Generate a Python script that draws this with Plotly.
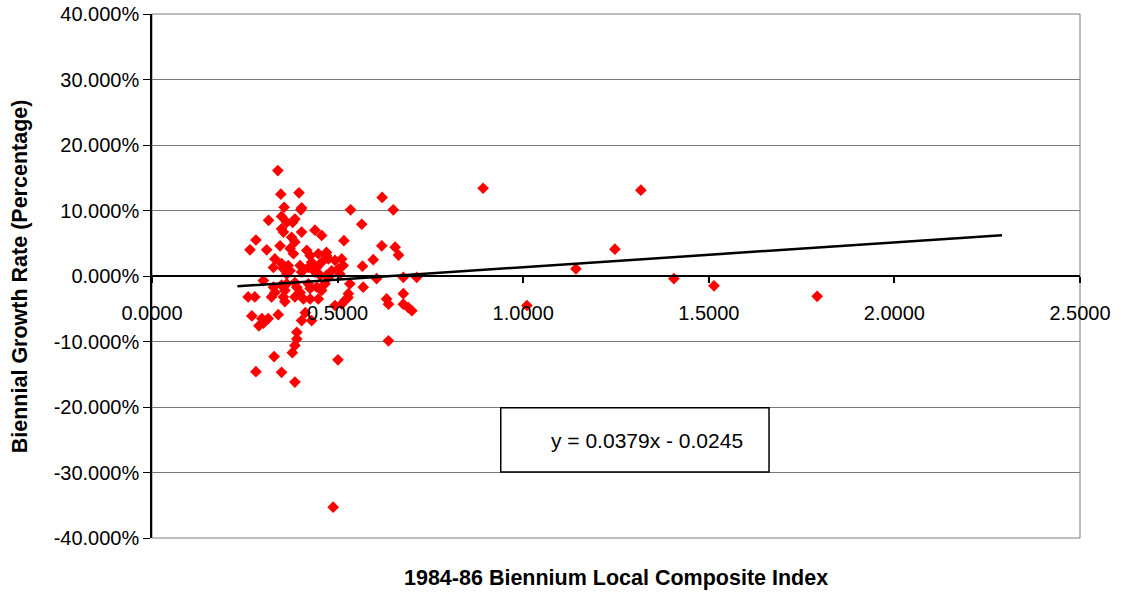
import plotly.graph_objects as go

# Local composite index (x) and biennial growth rate in percent (y)
lci = [0.339, 0.347, 0.396, 0.356, 0.401, 0.403, 0.314, 0.349, 0.363, 0.379,
       0.385, 0.349, 0.354, 0.376, 0.385, 0.403, 0.439, 0.457, 0.280, 0.264,
       0.309, 0.345, 0.372, 0.381, 0.417, 0.426, 0.448, 0.470, 0.470, 0.475,
       0.493, 0.511, 0.515, 0.502, 0.506, 0.484, 0.475, 0.331, 0.327, 0.349,
       0.354, 0.367, 0.372, 0.363, 0.399, 0.403, 0.421, 0.430, 0.444, 0.457,
       0.439, 0.453, 0.470, 0.300, 0.327, 0.331, 0.349, 0.363, 0.358, 0.385,
       0.390, 0.399, 0.421, 0.426, 0.444, 0.457, 0.466, 0.259, 0.277, 0.354,
       0.385, 0.408, 0.426, 0.448, 0.533, 0.569, 0.529, 0.605, 0.677, 0.713,
       0.632, 0.637, 0.677, 0.677, 0.690, 0.700, 0.535, 0.565, 0.620, 0.650,
       0.517, 0.619, 0.655, 0.664, 0.596, 0.567, 0.511, 0.520, 0.528, 0.493,
       0.269, 0.288, 0.296, 0.313, 0.340, 0.403, 0.430, 0.322, 0.358, 0.390,
       0.390, 0.385, 0.378, 0.329, 0.280, 0.349, 0.385, 0.501, 0.637, 0.488,
       0.892, 1.317, 1.247, 1.142, 1.406, 1.514, 1.792, 1.010, 0.300, 0.413]
growth_pct = [16.1, 12.5, 12.7, 10.5, 10.1, 10.4, 8.5, 9.1, 8.2, 8.2,
              8.7, 7.2, 6.7, 5.9, 5.2, 6.7, 7.0, 6.2, 5.5, 4.0,
              4.0, 4.6, 4.2, 3.4, 3.9, 3.1, 3.4, 3.1, 3.6, 2.6,
              2.4, 2.6, 1.6, 1.1, 0.3, 0.8, -0.2, 2.6, 1.3, 1.9,
              1.1, 1.6, 0.8, 0.3, 1.6, 0.6, 1.3, 2.1, 1.3, 2.1,
              0.6, 0.1, 0.1, -0.7, -1.7, -2.5, -1.4, -1.2, -2.2, -1.0,
              -1.7, -2.5, -1.2, -1.9, -1.7, -2.2, -1.2, -3.2, -3.2, -3.2,
              -3.2, -3.5, -3.5, -3.5, -1.2, -1.7, -2.7, -0.4, -0.2, -0.2,
              -3.5, -4.3, -2.7, -4.3, -4.8, -5.3, 10.1, 7.9, 12.0, 10.1,
              5.4, 4.6, 4.4, 3.2, 2.5, 1.5, -4.3, -3.7, -3.3, -4.5,
              -6.1, -7.6, -6.5, -6.5, -5.9, -6.8, -6.8, -3.2, -3.9, -8.6,
              -9.6, -10.6, -11.7, -12.3, -14.6, -14.7, -16.2, -12.8, -9.9, -35.3,
              13.4, 13.1, 4.1, 1.1, -0.4, -1.5, -3.1, -4.5, -7.2, -5.6]
growth = [v / 100 for v in growth_pct]

# Linear trendline coefficients (as shown in the chart) and its x extent
trend_slope = 0.0379
trend_intercept = -0.0245
trend_x = [0.23, 2.29]
trend_y = [trend_slope * x + trend_intercept for x in trend_x]

x_ticks = [0.0, 0.5, 1.0, 1.5, 2.0, 2.5]
y_ticks = [-0.4, -0.3, -0.2, -0.1, 0.0, 0.1, 0.2, 0.3, 0.4]
x_ticktext = [f"{v:.4f}" for v in x_ticks]
y_ticktext = [f"{v * 100:.3f}%" for v in y_ticks]

FONT = "Liberation Sans, Arial, sans-serif"

fig = go.Figure()
fig.add_trace(go.Scatter(
    x=lci, y=growth, mode="markers",
    marker=dict(symbol="diamond", size=9, color="#FF0000", line=dict(width=0)),
    showlegend=False, hoverinfo="x+y"))
fig.add_trace(go.Scatter(
    x=trend_x, y=trend_y, mode="lines",
    line=dict(color="black", width=2.5), showlegend=False, hoverinfo="skip"))

fig.update_layout(
    width=1122, height=594,
    margin=dict(l=152, r=42, t=14, b=56, autoexpand=False),
    paper_bgcolor="white", plot_bgcolor="white",
    font=dict(family=FONT, size=20, color="black"),
    xaxis=dict(range=[0, 2.5], tickvals=x_ticks, ticktext=x_ticktext,
               anchor="free", position=0.5, side="bottom", automargin=False,
               showline=True, linecolor="black", linewidth=2,
               ticks="outside", ticklen=6, tickwidth=2, tickcolor="black",
               ticklabelstandoff=13,
               showgrid=False, zeroline=False,
               tickfont=dict(family=FONT, size=20)),
    yaxis=dict(range=[-0.4, 0.4], tickvals=y_ticks, ticktext=y_ticktext,
               automargin=False,
               showline=True, linecolor="black", linewidth=1.5,
               ticks="outside", ticklen=7, tickcolor="black",
               showgrid=True, gridcolor="#7a7a7a", gridwidth=1,
               zeroline=False, tickfont=dict(family=FONT, size=20)),
    shapes=[
        dict(type="rect", xref="paper", yref="paper", x0=0, x1=1, y0=0, y1=1,
             line=dict(color="#7a7a7a", width=1), layer="below"),
        dict(type="rect", xref="paper", yref="paper",
             x0=0.3758, x1=0.6649, y0=0.126, y1=0.2487,
             line=dict(color="black", width=1.5), fillcolor="white", layer="above"),
    ],
    annotations=[
        dict(text="y = 0.0379x - 0.0245", xref="paper", yref="paper",
             x=0.5334, y=0.187, xanchor="center", yanchor="middle",
             showarrow=False, font=dict(family=FONT, size=21)),
        dict(text="<b>1984-86 Biennium Local Composite Index</b>", xref="paper",
             yref="paper", x=0.5, y=-0.076, xanchor="center", yanchor="middle",
             showarrow=False, font=dict(family=FONT, size=21.5)),
        dict(text="<b>Biennial Growth Rate (Percentage)</b>", xref="paper",
             yref="paper", x=-0.142, y=0.5, xanchor="center", yanchor="middle",
             textangle=-90, showarrow=False, font=dict(family=FONT, size=21.5)),
    ],
)

fig.write_html("out.html")
